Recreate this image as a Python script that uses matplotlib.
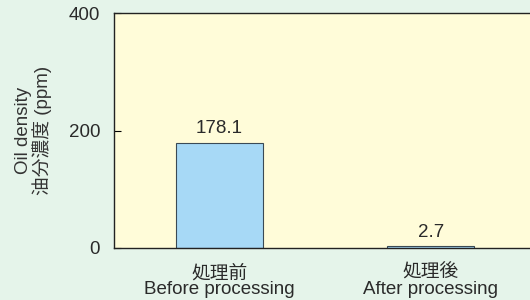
import matplotlib
matplotlib.use("Agg")
import matplotlib.pyplot as plt

# Oil density before / after processing
categories = ["処理前\nBefore processing", "処理後\nAfter processing"]
oil_ppm = [178.1, 2.7]
value_labels = ["178.1", "2.7"]
yticks = [0, 200, 400]

plt.rcParams['font.family'] = ['Liberation Sans', 'Noto Sans CJK JP', 'DejaVu Sans']
text_color = '#2a2a2a'

fig = plt.figure(figsize=(5.3, 3.0), dpi=100, facecolor='#e5f4ea')
ax = fig.add_axes([114 / 530, 52 / 300, 1 - 114 / 530, 235 / 300])
ax.set_facecolor('#fffcd9')

x = range(len(categories))
ax.bar(x, oil_ppm, width=0.41, color='#a7d9f6', edgecolor='#3a4a55', linewidth=0.8)

for xi, v, lbl in zip(x, oil_ppm, value_labels):
    ax.text(xi, v + 10, lbl, ha='center', va='bottom', fontsize=13.5, color=text_color)

ax.set_xlim(-0.5, 1.47)
ax.set_ylim(0, 400)
ax.set_yticks(yticks)
ax.set_xticks(list(x))
ax.set_xticklabels(categories, fontsize=13.5, linespacing=0.95, color=text_color)
ax.tick_params(axis='y', direction='in', length=5, labelsize=13.5, pad=10, labelcolor=text_color)
ax.tick_params(axis='x', length=0, pad=12)
ax.spines['right'].set_visible(False)
for s in ['left', 'top', 'bottom']:
    ax.spines[s].set_color('#222222')
    ax.spines[s].set_linewidth(1.0)

ax.set_ylabel("Oil density\n油分濃度 (ppm)", fontsize=13.5, linespacing=1.0, color='#333333', labelpad=12)

fig.savefig("out.png", dpi=100, facecolor=fig.get_facecolor())
